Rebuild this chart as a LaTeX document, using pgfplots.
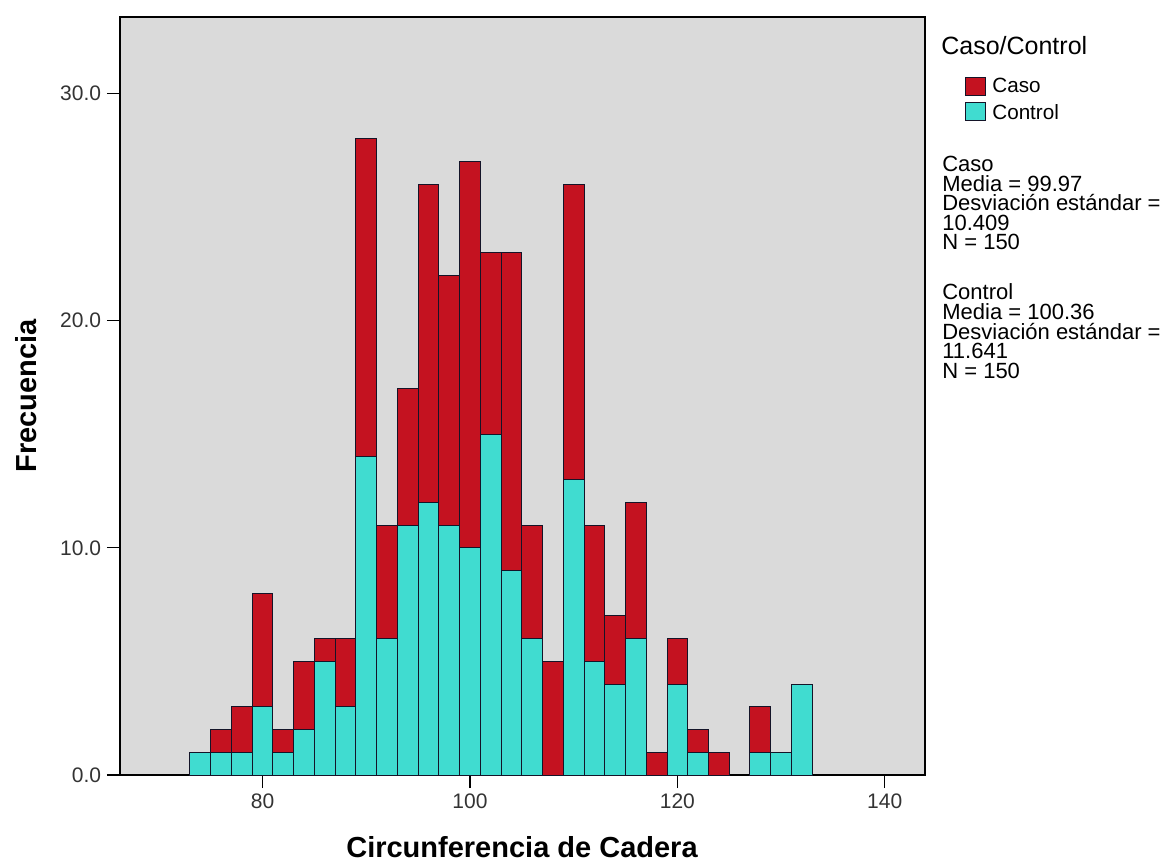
\documentclass[border=0pt]{standalone}
\usepackage{pgfplots}
\pgfplotsset{compat=1.18}
\usepackage{fontspec}
\setmainfont{Liberation Sans}

\definecolor{caso}{RGB}{196,18,32}
\definecolor{control}{RGB}{64,220,208}
\definecolor{plotbg}{RGB}{218,218,218}
\definecolor{edge}{RGB}{20,20,40}

\begin{document}
\begin{tikzpicture}
\useasboundingbox (-72pt,-52.8pt) rectangle (624.6pt,465pt);
\begin{axis}[
  at={(0pt,0pt)}, anchor=south west,
  scale only axis, width=483pt, height=454.8pt,
  xmin=66.25, xmax=143.88, ymin=0, ymax=33.36,
  ybar stacked, bar width=2,
  axis background/.style={fill=plotbg},
  axis line style={line width=0.9pt},
  tick align=outside, xtick pos=left, ytick pos=left,
  major tick length=7.8pt,
  tick style={black, line width=0.8pt},
  xtick={80,100,120,140},
  ytick={0,10,20,30},
  /pgf/number format/assume math mode=true,
  yticklabel style={/pgf/number format/.cd, fixed, fixed zerofill, precision=1},
  ticklabel style={font=\fontsize{12.6}{14}\selectfont, text=black!80},
]
% Control (bottom of stack), bins of width 2 from 73 to 133
\addplot[fill=control, draw=edge, line width=0.6pt] coordinates {
 (74,1) (76,1) (78,1) (80,3) (82,1) (84,2) (86,5) (88,3) (90,14) (92,6)
 (94,11) (96,12) (98,11) (100,10) (102,15) (104,9) (106,6) (108,0) (110,13) (112,5)
 (114,4) (116,6) (118,0) (120,4) (122,1) (124,0) (126,0) (128,1) (130,1) (132,4)};
% Caso
\addplot[fill=caso, draw=edge, line width=0.6pt] coordinates {
 (74,0) (76,1) (78,2) (80,5) (82,1) (84,3) (86,1) (88,3) (90,14) (92,5)
 (94,6) (96,14) (98,11) (100,17) (102,8) (104,14) (106,5) (108,5) (110,13) (112,6)
 (114,3) (116,6) (118,1) (120,2) (122,1) (124,1) (126,0) (128,2) (130,0) (132,0)};
\end{axis}

\node[anchor=base, font=\bfseries\fontsize{17.4}{20}\selectfont] at (241.2pt,-49.2pt) {Circunferencia de Cadera};
\node[rotate=90, anchor=base, font=\bfseries\fontsize{17.4}{20}\selectfont] at (-49.8pt,227.4pt) {Frecuencia};

% legend
\node[anchor=base west, inner sep=0pt, font=\fontsize{15}{17}\selectfont] at (492.6pt,432pt) {Caso/Control};
\draw[fill=caso, draw=edge, line width=0.4pt] (507pt,408pt) rectangle (519pt,418.8pt);
\draw[fill=control, draw=edge, line width=0.4pt] (507pt,393pt) rectangle (519pt,403.8pt);
\node[anchor=base west, inner sep=0pt, font=\fontsize{12.4}{14}\selectfont] at (523.2pt,409.2pt) {Caso};
\node[anchor=base west, inner sep=0pt, font=\fontsize{12.4}{14}\selectfont] at (523.2pt,393pt) {Control};

\foreach \t [count=\i from 0] in {Caso, Media = 99.97, Desviación estándar =, 10.409, N = 150}
  \node[anchor=base west, inner sep=0pt, font=\fontsize{13.2}{14}\selectfont] at (493.2pt,361.8pt-\i*11.7pt) {\t};
\foreach \t [count=\i from 0] in {Control, Media = 100.36, Desviación estándar =, 11.641, N = 150}
  \node[anchor=base west, inner sep=0pt, font=\fontsize{13.2}{14}\selectfont] at (493.2pt,285pt-\i*11.7pt) {\t};
\end{tikzpicture}
\end{document}
